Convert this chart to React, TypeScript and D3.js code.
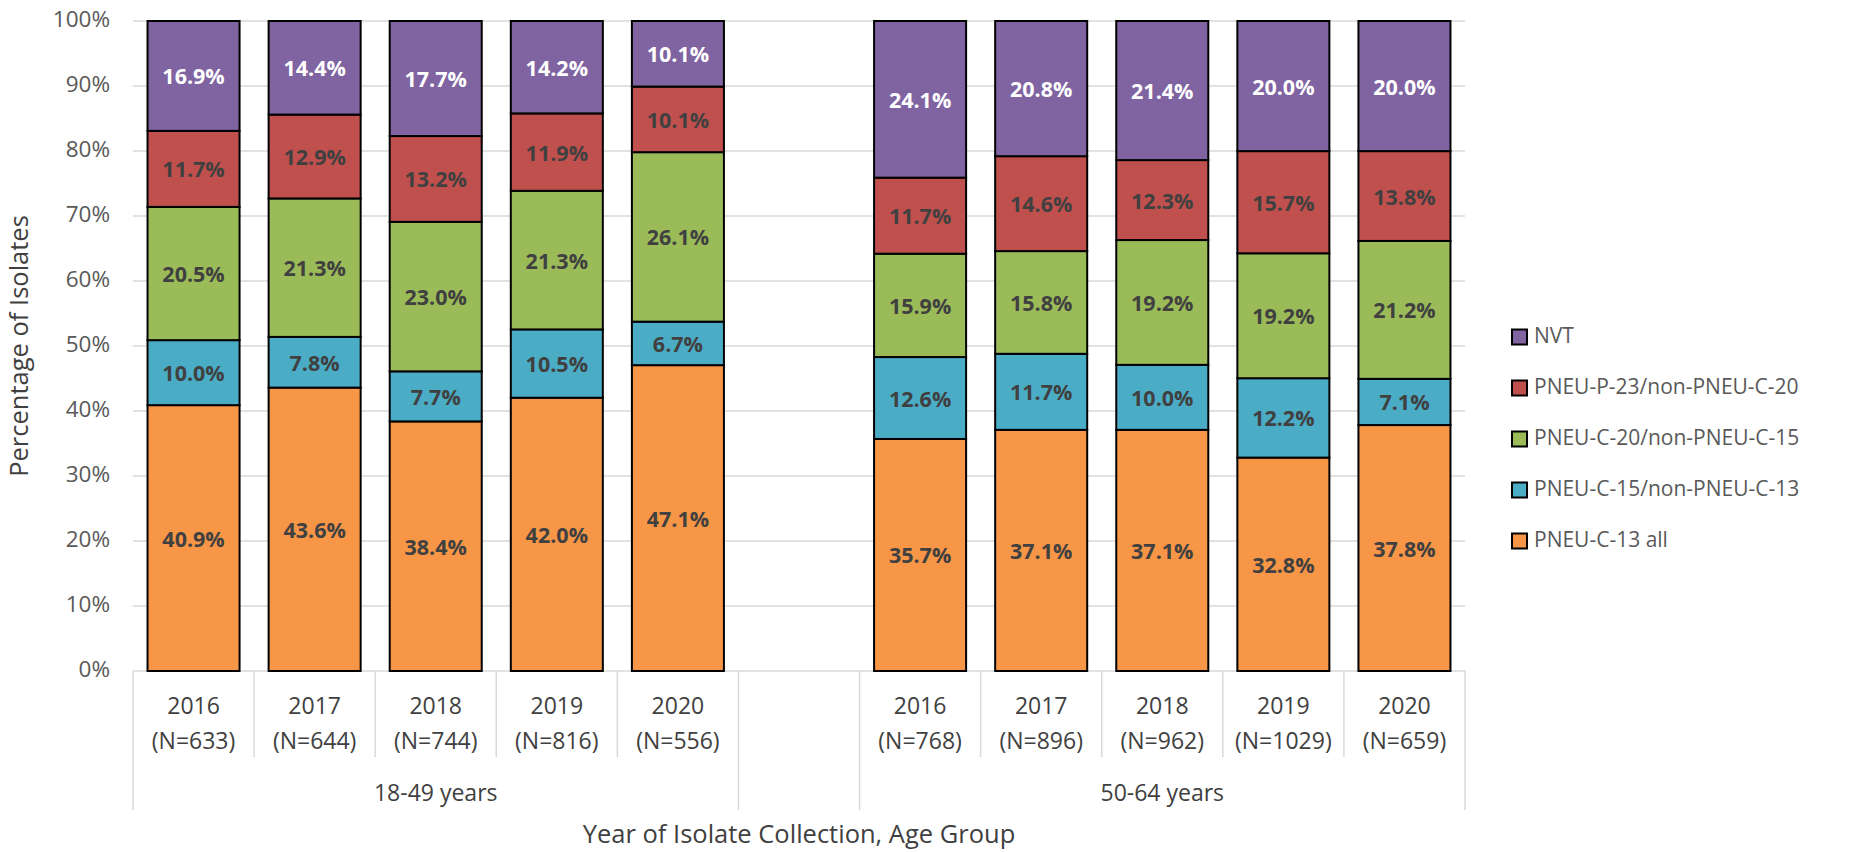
import * as d3 from 'd3'

// bottom-to-top series order
const seriesKeys = ['c13', 'c15', 'c20', 'p23', 'nvt']
const seriesNames = ['PNEU-C-13 all', 'PNEU-C-15/non-PNEU-C-13', 'PNEU-C-20/non-PNEU-C-15', 'PNEU-P-23/non-PNEU-C-20', 'NVT']
const seriesColors = ['#F79646', '#4BACC6', '#9BBB59', '#C0504D', '#8064A2']

const years = ['2016', '2017', '2018', '2019', '2020']
const groups = ['18-49 years', '50-64 years']
const nYoung = [633, 644, 744, 816, 556]
const nOld = [768, 896, 962, 1029, 659]

// percentages per year, bottom to top: C-13, C-15, C-20, P-23, NVT
const young = [
  [40.9, 10.0, 20.5, 11.7, 16.9],
  [43.6, 7.8, 21.3, 12.9, 14.4],
  [38.4, 7.7, 23.0, 13.2, 17.7],
  [42.0, 10.5, 21.3, 11.9, 14.2],
  [47.1, 6.7, 26.1, 10.1, 10.1],
]
const old = [
  [35.7, 12.6, 15.9, 11.7, 24.1],
  [37.1, 11.7, 15.8, 14.6, 20.8],
  [37.1, 10.0, 19.2, 12.3, 21.4],
  [32.8, 12.2, 19.2, 15.7, 20.0],
  [37.8, 7.1, 21.2, 13.8, 20.0],
]

const yTicks = [0, 0.1, 0.2, 0.3, 0.4, 0.5, 0.6, 0.7, 0.8, 0.9, 1]

const W = 1850
const H = 852
const margin = { top: 21, right: 385, bottom: 181, left: 133 }
const FONT = '"Open Sans", sans-serif'

type Row = { key: string; group: number; year: string; n: number; [k: string]: any }

const rows: Row[] = []
years.forEach((y, i) => {
  const r: Row = { key: `a-${y}`, group: 0, year: y, n: nYoung[i] }
  seriesKeys.forEach((k, j) => (r[k] = young[i][j]))
  rows.push(r)
})
const gapKey = 'gap'
years.forEach((y, i) => {
  const r: Row = { key: `b-${y}`, group: 1, year: y, n: nOld[i] }
  seriesKeys.forEach((k, j) => (r[k] = old[i][j]))
  rows.push(r)
})

const domain = [...rows.slice(0, 5).map(r => r.key), gapKey, ...rows.slice(5).map(r => r.key)]

export default function App() {
  const x = d3.scaleBand<string>()
    .domain(domain)
    .range([margin.left, W - margin.right])
    .paddingInner(0.24)
    .paddingOuter(0.12)
  const step = x.step()
  const y = d3.scaleLinear().domain([0, 1]).range([H - margin.bottom, margin.top])

  const stack = d3.stack<Row>().keys(seriesKeys).offset(d3.stackOffsetExpand)
  const layers = stack(rows)

  const y0 = y(0)
  // category boundaries
  const boundaries = domain.map((k, i) => margin.left + i * step)
  boundaries.push(W - margin.right)
  const groupEdges = [margin.left, margin.left + 5 * step, margin.left + 6 * step, W - margin.right]
  const groupCenters = [(groupEdges[0] + groupEdges[1]) / 2, (groupEdges[2] + groupEdges[3]) / 2]

  return (
    <svg width={W} height={H} style={{ position: 'absolute', left: 0, top: 0, background: '#fff' }} fontFamily={FONT}>
      {/* gridlines */}
      {yTicks.map(t => (
        <line key={t} x1={margin.left} x2={W - margin.right} y1={y(t)} y2={y(t)} stroke="#D9D9D9" strokeWidth={1.5} />
      ))}
      {/* y tick labels */}
      {yTicks.map(t => (
        <text key={'l' + t} x={110} y={y(t)} textAnchor="end" dominantBaseline="middle" fontSize={22.5} fill="#595959">
          {d3.format('.0%')(t)}
        </text>
      ))}
      {/* bars */}
      {layers.map((layer, li) => (
        <g key={layer.key}>
          {layer.map(d => {
            const r = d.data
            const bx = x(r.key)!
            const top = y(d[1])
            const bot = y(d[0])
            return (
              <g key={r.key}>
                <rect x={bx} y={top} width={x.bandwidth()} height={bot - top}
                  fill={seriesColors[li]} stroke="#000" strokeWidth={2} />
                <text x={bx + x.bandwidth() / 2} y={(top + bot) / 2} textAnchor="middle" dominantBaseline="central"
                  fontSize={21.5} fontWeight="bold" fill={li === 4 ? '#fff' : '#404040'}>
                  {r[layer.key].toFixed(1)}%
                </text>
              </g>
            )
          })}
        </g>
      ))}
      {/* category dividers */}
      {boundaries.map((bx, i) => {
        const long = groupEdges.some(g => Math.abs(g - bx) < 0.5)
        return <line key={'b' + i} x1={bx} x2={bx} y1={y0} y2={long ? 810 : 757} stroke="#D9D9D9" strokeWidth={1.5} />
      })}
      {/* year labels */}
      {rows.map(r => (
        <g key={'x' + r.key} fontSize={23} fill="#404040" textAnchor="middle">
          <text x={x(r.key)! + x.bandwidth() / 2} y={708} dominantBaseline="middle">{r.year}</text>
          <text x={x(r.key)! + x.bandwidth() / 2} y={743} dominantBaseline="middle">(N={r.n})</text>
        </g>
      ))}
      {groups.map((g, i) => (
        <text key={g} x={groupCenters[i]} y={795} textAnchor="middle" dominantBaseline="middle" fontSize={23} fill="#404040">{g}</text>
      ))}
      {/* axis titles */}
      <text x={(margin.left + W - margin.right) / 2} y={836} textAnchor="middle" dominantBaseline="middle" fontSize={25.5} fill="#404040">
        Year of Isolate Collection, Age Group
      </text>
      <text transform={`translate(21,${(y(0) + y(1)) / 2}) rotate(-90)`} textAnchor="middle" dominantBaseline="middle" fontSize={25.5} fill="#404040">
        Percentage of Isolates
      </text>
      {/* legend */}
      {seriesKeys.slice().reverse().map((k, i) => {
        const idx = seriesKeys.length - 1 - i
        const ly = 337 + i * 51
        return (
          <g key={'lg' + k}>
            <rect x={1512} y={ly - 7.5} width={15} height={15} fill={seriesColors[idx]} stroke="#000" strokeWidth={2} />
            <text x={1534} y={ly} dominantBaseline="middle" fontSize={21} fill="#595959">{seriesNames[idx]}</text>
          </g>
        )
      })}
    </svg>
  )
}
